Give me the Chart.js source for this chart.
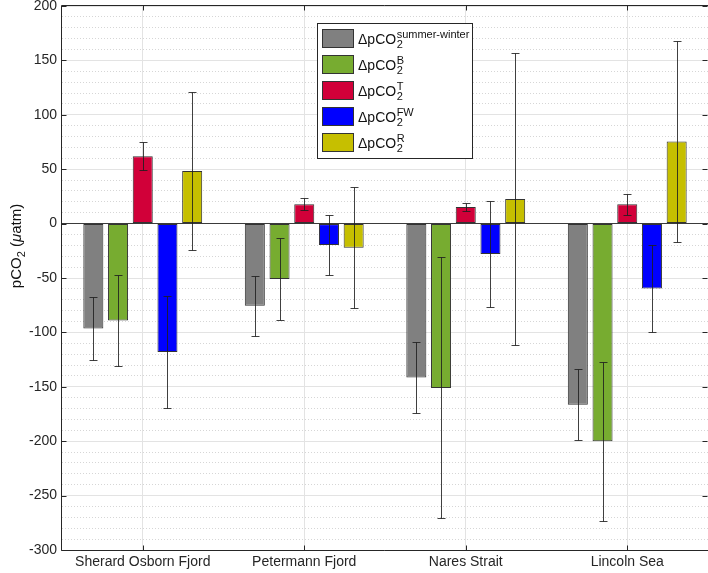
<!DOCTYPE html>
<html>
<head>
<meta charset="utf-8">
<script src="https://cdn.jsdelivr.net/npm/chart.js@4"></script>
<style>
  html, body { margin: 0; padding: 0; background: #fff; }
  canvas { display: block; }
</style>
</head>
<body>
<canvas id="chart" width="708" height="573"></canvas>
<script>
const regions = ["Sherard Osborn Fjord", "Petermann Fjord", "Nares Strait", "Lincoln Sea"];
const seriesSup = ["summer-winter", "B", "T", "FW", "R"];
const seriesColors = ["#808080", "#77AC30", "#D10039", "#0000FF", "#C6BF00"];

// bar heights (µatm)
const dSummerWinter = [-96.5, -75.5, -141.5, -166.5];
const dBio = [-89, -51, -151, -200];
const dTemp = [62, 17.7, 15.3, 17.7];
const dFW = [-118, -19.7, -28, -59.7];
const dRes = [48.3, -22.1, 22.6, 75.4];

// error bar half widths
const errSummerWinter = [28.6, 27.7, 32.8, 32.5];
const errBio = [42, 38, 120, 73];
const errTemp = [12.8, 5.4, 3.7, 9.6];
const errFW = [51.4, 27.2, 48.7, 40.1];
const errRes = [73, 55.8, 134.2, 92.3];

const yMin = -300, yMax = 200;

const values = [dSummerWinter, dBio, dTemp, dFW, dRes];
const errors = [errSummerWinter, errBio, errTemp, errFW, errRes];

const FONT = '"Liberation Sans", Arial, Helvetica, sans-serif';
const INK = "#262626";

const datasets = values.map((v, i) => ({
  label: "ΔpCO2" + seriesSup[i],
  data: v,
  backgroundColor: seriesColors[i],
  borderColor: "#333333",
  borderWidth: 1,
  borderSkipped: false,
  categoryPercentage: 0.765,
  barPercentage: 0.81
}));

function drawErrorBars(chart) {
  const ctx = chart.ctx;
  const y = chart.scales.y;
  ctx.save();
  ctx.strokeStyle = "rgba(30,30,30,0.85)";
  ctx.lineWidth = 1;
  chart.data.datasets.forEach((ds, i) => {
    const meta = chart.getDatasetMeta(i);
    meta.data.forEach((bar, j) => {
      const v = ds.data[j];
      const e = errors[i][j];
      const x = Math.round(bar.x) + 0.5;
      const top = Math.round(y.getPixelForValue(v + e)) + 0.5;
      const bot = Math.round(y.getPixelForValue(v - e)) + 0.5;
      ctx.beginPath();
      ctx.moveTo(x, top); ctx.lineTo(x, bot);
      ctx.moveTo(x - 4, top); ctx.lineTo(x + 4, top);
      ctx.moveTo(x - 4, bot); ctx.lineTo(x + 4, bot);
      ctx.stroke();
    });
  });
  ctx.restore();
}

function drawFrame(chart) {
  const ctx = chart.ctx;
  const a = chart.chartArea;
  const x = chart.scales.x, y = chart.scales.y;
  const L = a.left - 0.5, T = a.top - 0.5, B = a.bottom + 0.5, R = a.right - 0.5;
  ctx.save();
  ctx.strokeStyle = INK;
  ctx.lineWidth = 1;
  ctx.beginPath();
  ctx.moveTo(L, B); ctx.lineTo(L, T); ctx.lineTo(a.right, T);
  ctx.moveTo(L, B); ctx.lineTo(a.right, B);
  y.ticks.forEach(t => {
    const py = Math.round(y.getPixelForValue(t.value)) + 0.5;
    ctx.moveTo(L, py); ctx.lineTo(L + 5, py);
    ctx.moveTo(R - 5, py); ctx.lineTo(R, py);
  });
  x.ticks.forEach((t, i) => {
    const px = Math.round(x.getPixelForTick(i)) + 0.5;
    ctx.moveTo(px, B); ctx.lineTo(px, B - 5);
    ctx.moveTo(px, T); ctx.lineTo(px, T + 5);
  });
  ctx.stroke();
  ctx.restore();
}

function drawLegend(chart) {
  const ctx = chart.ctx;
  ctx.save();
  ctx.fillStyle = "#fff";
  ctx.fillRect(317, 23, 155, 135);
  ctx.strokeStyle = INK;
  ctx.lineWidth = 1;
  ctx.strokeRect(317.5, 23.5, 155, 135);
  chart.data.datasets.forEach((ds, i) => {
    const top = 29 + i * 26;
    ctx.fillStyle = ds.backgroundColor;
    ctx.fillRect(322, top, 32, 19);
    ctx.strokeStyle = "#333";
    ctx.strokeRect(322.5, top + 0.5, 31, 18);
    ctx.fillStyle = "#111";
    ctx.textAlign = "left";
    ctx.textBaseline = "alphabetic";
    ctx.font = "14px " + FONT;
    const base = "ΔpCO";
    ctx.fillText(base, 358, top + 14.5);
    const w = ctx.measureText(base).width;
    ctx.font = "11px " + FONT;
    ctx.fillText("2", 358 + w + 0.5, top + 19);
    ctx.fillText(seriesSup[i], 358 + w + 0.5, top + 9);
  });
  ctx.restore();
}

function drawYTitle(chart) {
  const ctx = chart.ctx;
  const parts = [
    { t: "pCO", f: "15px " + FONT, dy: 0 },
    { t: "2", f: "11px " + FONT, dy: 4 },
    { t: " (", f: "15px " + FONT, dy: 0 },
    { t: "μ", f: "italic 15px " + FONT, dy: 0 },
    { t: "atm)", f: "15px " + FONT, dy: 0 }
  ];
  ctx.save();
  let total = 0;
  parts.forEach(p => { ctx.font = p.f; p.w = ctx.measureText(p.t).width; total += p.w; });
  ctx.translate(21, 246);
  ctx.rotate(-Math.PI / 2);
  ctx.fillStyle = "#111";
  ctx.textBaseline = "alphabetic";
  ctx.textAlign = "left";
  let cx = -total / 2;
  parts.forEach(p => {
    ctx.font = p.f;
    ctx.fillText(p.t, cx, p.dy);
    cx += p.w;
  });
  ctx.restore();
}

const decor = {
  id: "decor",
  afterDatasetsDraw(chart) { drawErrorBars(chart); },
  afterDraw(chart) {
    drawFrame(chart);
    drawLegend(chart);
    drawYTitle(chart);
  }
};

new Chart(document.getElementById("chart"), {
  type: "bar",
  data: { labels: regions, datasets: datasets },
  options: {
    responsive: false,
    animation: false,
    devicePixelRatio: 1,
    layout: { padding: { top: 6, right: 0, left: 0, bottom: 0 } },
    plugins: { legend: { display: false }, tooltip: { enabled: false } },
    scales: {
      x: {
        offset: true,
        grid: { offset: false, color: "#e3e3e3", drawTicks: false },
        border: { display: false },
        ticks: { font: { family: FONT, size: 14 }, color: INK, padding: 4, maxRotation: 0 },
        afterFit(s) { s.height = 23; s.paddingLeft = 0; s.paddingRight = 0; }
      },
      y: {
        min: yMin, max: yMax,
        grid: {
          color: c => c.tick && c.tick.value === 0 ? "#3a3a3a" : "#e3e3e3",
          drawTicks: false
        },
        border: { display: false },
        ticks: { stepSize: 50, font: { family: FONT, size: 14 }, color: INK, padding: 5 },
        afterFit(s) { s.width = 62; s.paddingTop = 0; s.paddingBottom = 0; }
      },
      yMinor: {
        position: "left",
        min: yMin, max: yMax,
        grid: {
          color: c => c.tick && c.tick.value % 50 === 0 ? "rgba(0,0,0,0)" : "#d6d6d6",
          drawTicks: false
        },
        border: { display: false, dash: [1, 2] },
        ticks: { stepSize: 10, display: false },
        afterFit(s) { s.width = 0; s.paddingTop = 0; s.paddingBottom = 0; }
      }
    }
  },
  plugins: [decor]
});
</script>
</body>
</html>
